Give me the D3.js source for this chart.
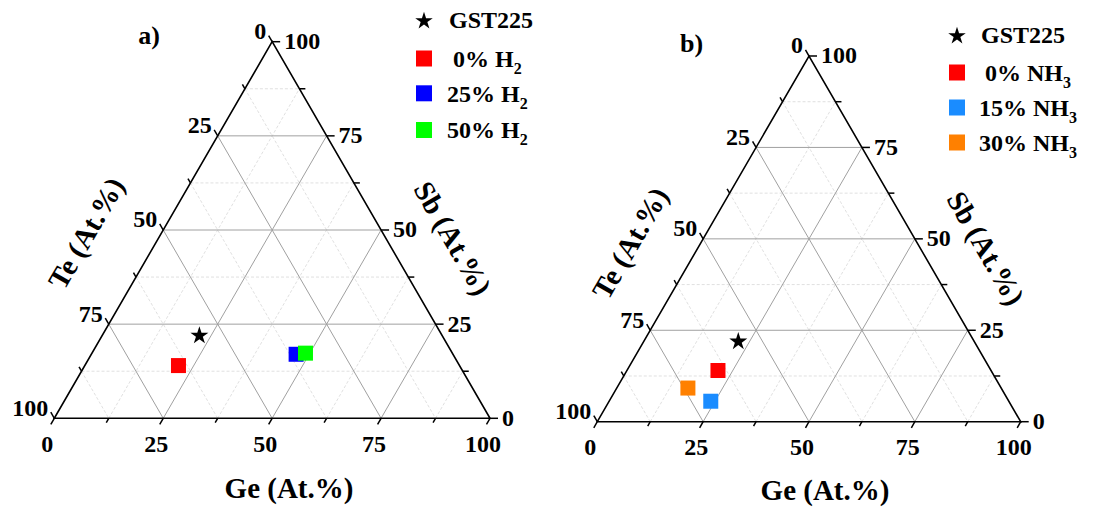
<!DOCTYPE html>
<html>
<head>
<meta charset="utf-8">
<script src="https://cdn.jsdelivr.net/npm/d3@7/dist/d3.min.js"></script>
<style>
  html, body { margin: 0; padding: 0; background: #fff; }
  svg { display: block; }
  text { font-family: "Liberation Serif", "Times New Roman", serif; font-weight: bold; fill: #000; }
</style>
</head>
<body>
<svg id="chart" width="1094" height="508"></svg>
<script>
// ---------------- DATA ----------------
const tickValues = [0, 25, 50, 75, 100];
const minorValues = [12.5, 37.5, 62.5, 87.5];
const gridValues = [25, 50, 75];
const axisTitles = ["Ge (At.%)", "Te (At.%)", "Sb (At.%)"];

// GST225 reference composition (Ge, Sb, Te)
const gstLabel = "GST225";
const gstGe = [22.2];
const gstSb = [22.2];
const gstTe = [55.6];

// Panel a) : H2 series
const seriesA = [" 0% H", "25% H", "50% H"];
const subA = ["2", "2", "2"];
const geA = [21.5, 47.0, 49.0];
const sbA = [14.0, 17.0, 17.3];
const teA = [64.5, 36.0, 33.7];
const colorsA = ["#ff0000", "#0000ff", "#00ff00"];

// Panel b) : NH3 series
const seriesB = [" 0% NH", "15% NH", "30% NH"];
const subB = ["3", "3", "3"];
const geB = [21.5, 24.0, 16.8];
const sbB = [14.0, 5.6, 9.2];
const teB = [64.5, 70.4, 74.0];
const colorsB = ["#ff0000", "#1a8cff", "#ff8000"];

// ---------------- DRAW ----------------
const svg = d3.select("#chart");

function drawPanel(cfg) {
  const g = svg.append("g");
  // x: Ge + Sb/2 ; y: Sb
  const x = d3.scaleLinear().domain([0, 100]).range([cfg.x0, cfg.x1]);
  const y = d3.scaleLinear().domain([0, 100]).range([cfg.y0, cfg.yTop]);
  const P = (ge, sb, te) => {
    const s = ge + sb + te;
    const G = 100 * ge / s, S = 100 * sb / s;
    return [x(G + S / 2), y(S)];
  };
  const line = d3.line();

  // grid lines (minor dashed, major solid)
  const gridDefs = [
    v => [P(0, v, 100 - v), P(100 - v, v, 0)],   // Sb const
    v => [P(v, 0, 100 - v), P(v, 100 - v, 0)],   // Ge const
    v => [P(0, 100 - v, v), P(100 - v, 0, v)]    // Te const
  ];
  gridDefs.forEach(fn => {
    minorValues.forEach(v => {
      g.append("path").attr("d", line(fn(v)))
        .attr("stroke", "#dcdcdc").attr("stroke-width", 0.9)
        .attr("stroke-dasharray", "3,2").attr("fill", "none");
    });
  });
  gridDefs.forEach(fn => {
    gridValues.forEach(v => {
      g.append("path").attr("d", line(fn(v)))
        .attr("stroke", "#a0a0a0").attr("stroke-width", 1).attr("fill", "none");
    });
  });

  // triangle frame
  const tri = [P(0, 0, 100), P(100, 0, 0), P(0, 100, 0)];
  g.append("path").attr("d", line(tri) + "Z")
    .attr("fill", "none").attr("stroke", "#000").attr("stroke-width", 1.6)
    .attr("stroke-linejoin", "miter");

  const c60 = 0.5, s60 = Math.sqrt(3) / 2;
  const allTicks = tickValues.map(v => ({ v, L: 7 })).concat(minorValues.map(v => ({ v, L: 5 })));
  // bottom axis (Ge)
  allTicks.forEach(t => {
    const p = P(t.v, 0, 100 - t.v);
    g.append("line").attr("x1", p[0]).attr("y1", p[1])
      .attr("x2", p[0] - c60 * t.L).attr("y2", p[1] + s60 * t.L)
      .attr("stroke", "#000").attr("stroke-width", 1.5);
  });
  // left axis (Te)
  allTicks.forEach(t => {
    const p = P(0, 100 - t.v, t.v);
    g.append("line").attr("x1", p[0]).attr("y1", p[1])
      .attr("x2", p[0] - c60 * t.L).attr("y2", p[1] - s60 * t.L)
      .attr("stroke", "#000").attr("stroke-width", 1.5);
  });
  // right axis (Sb)
  allTicks.forEach(t => {
    const p = P(100 - t.v, t.v, 0);
    g.append("line").attr("x1", p[0]).attr("y1", p[1])
      .attr("x2", p[0] + t.L + 1).attr("y2", p[1])
      .attr("stroke", "#000").attr("stroke-width", 1.5);
  });

  // tick labels
  const tf = 24;
  tickValues.forEach(v => {
    const pb = P(v, 0, 100 - v);
    g.append("text").attr("x", pb[0] - 7).attr("y", pb[1] + 25).attr("dy", "0.35em")
      .attr("text-anchor", "middle").attr("font-size", tf).text(v);
    const pl = P(0, 100 - v, v);
    g.append("text").attr("x", pl[0] - 6).attr("y", pl[1] - 11).attr("dy", "0.35em")
      .attr("text-anchor", "end").attr("font-size", tf).text(v);
    const pr = P(100 - v, v, 0);
    g.append("text").attr("x", pr[0] + 12).attr("y", pr[1] - 1).attr("dy", "0.35em")
      .attr("text-anchor", "start").attr("font-size", tf).text(v);
  });

  // axis titles
  const af = 29;
  g.append("text").attr("x", cfg.geT[0]).attr("y", cfg.geT[1]).attr("dy", "0.35em")
    .attr("text-anchor", "middle").attr("font-size", af).text(axisTitles[0]);
  g.append("text").attr("transform", `translate(${cfg.teT[0]},${cfg.teT[1]}) rotate(-60)`)
    .attr("dy", "0.35em").attr("text-anchor", "middle").attr("font-size", af).text(axisTitles[1]);
  g.append("text").attr("transform", `translate(${cfg.sbT[0]},${cfg.sbT[1]}) rotate(60)`)
    .attr("dy", "0.35em").attr("text-anchor", "middle").attr("font-size", af).text(axisTitles[2]);

  // panel label
  g.append("text").attr("x", cfg.lab[0]).attr("y", cfg.lab[1]).attr("dy", "0.35em")
    .attr("text-anchor", "middle").attr("font-size", 26).text(cfg.label);

  // data squares
  const sq = 15;
  cfg.ge.forEach((ge, i) => {
    const p = P(ge, cfg.sb[i], cfg.te[i]);
    g.append("rect").attr("x", p[0] - sq / 2).attr("y", p[1] - sq / 2)
      .attr("width", sq).attr("height", sq).attr("fill", cfg.colors[i]);
  });
  // GST225 star
  gstGe.forEach((ge, i) => {
    const p = P(ge, gstSb[i], gstTe[i]);
    g.append("path").attr("d", d3.symbol(d3.symbolStar, 100)())
      .attr("transform", `translate(${p[0]},${p[1] + 1})`).attr("fill", "#000");
  });

  // legend
  const lf = 24;
  const lg = g.append("g");
  lg.append("path").attr("d", d3.symbol(d3.symbolStar, 95)())
    .attr("transform", `translate(${cfg.legX},${cfg.legY[0] + 1})`).attr("fill", "#000");
  lg.append("text").attr("x", cfg.legTX).attr("y", cfg.legY[0]).attr("dy", "0.35em")
    .attr("font-size", lf).text(gstLabel);
  cfg.series.forEach((name, i) => {
    const yy = cfg.legY[i + 1];
    lg.append("rect").attr("x", cfg.legX - 8).attr("y", yy - 8)
      .attr("width", 16).attr("height", 16).attr("fill", cfg.colors[i]);
    const t = lg.append("text").attr("x", cfg.legTX - 2).attr("y", yy).attr("dy", "0.35em")
      .attr("font-size", lf).style("white-space", "pre");
    t.append("tspan").text(name);
    t.append("tspan").attr("font-size", 16).attr("dy", 7).text(cfg.sub[i]);
  });
}

drawPanel({
  x0: 54.3, x1: 490, y0: 418.3, yTop: 41.7,
  ge: geA, sb: sbA, te: teA, colors: colorsA, series: seriesA, sub: subA,
  geT: [289, 488], teT: [86, 233], sbT: [453, 238],
  lab: [149, 35], label: "a)",
  legX: 424, legY: [20, 58.5, 93.3, 130], legTX: 449
});
drawPanel({
  x0: 597.3, x1: 1020.7, y0: 421.7, yTop: 56,
  ge: geB, sb: sbB, te: teB, colors: colorsB, series: seriesB, sub: subB,
  geT: [825, 490], teT: [630, 243], sbT: [986, 248],
  lab: [691.5, 42.5], label: "b)",
  legX: 957, legY: [35, 72.5, 107.5, 142.5], legTX: 981
});
</script>
</body>
</html>
